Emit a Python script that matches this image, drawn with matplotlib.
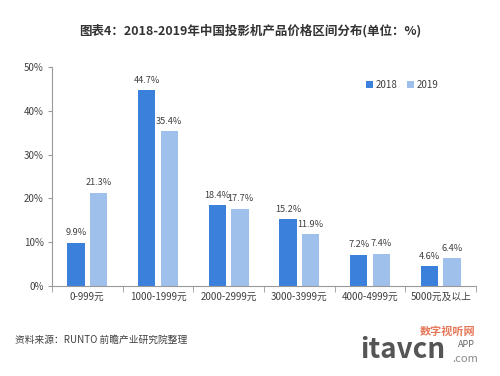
import matplotlib
matplotlib.use("Agg")
import matplotlib.pyplot as plt
import numpy as np

plt.rcParams['font.family'] = ['Noto Sans CJK SC', 'DejaVu Sans']

categories = ["0-999元", "1000-1999元", "2000-2999元", "3000-3999元", "4000-4999元", "5000元及以上"]
v2018 = [9.9, 44.7, 18.4, 15.2, 7.2, 4.6]
v2019 = [21.3, 35.4, 17.7, 11.9, 7.4, 6.4]
yticks = [0, 10, 20, 30, 40, 50]

c18 = "#3b80da"
c19 = "#a0c0ec"
txt = "#404040"

fig = plt.figure(figsize=(5, 3.76), dpi=100)
ax = fig.add_axes([0.104, 0.239, 0.848, 0.583])

x = np.arange(len(categories))
w = 0.245
off = 0.16
b1 = ax.bar(x - off, v2018, w, color=c18, label="2018")
b2 = ax.bar(x + off, v2019, w, color=c19, label="2019")
for bars, vals in ((b1, v2018), (b2, v2019)):
    for b, v in zip(bars, vals):
        ax.text(b.get_x() + b.get_width() / 2, v + 1.2, f"{v}%", ha="center", va="bottom",
                fontsize=6.6, color=txt)

ax.set_xlim(-0.5, len(categories) - 0.5)
ax.set_ylim(0, 50)
ax.set_yticks(yticks)
ax.set_yticklabels([f"{t}%" for t in yticks], fontsize=7, color=txt)
ax.set_xticks(x)
ax.set_xticklabels(categories, fontsize=7, color=txt)
ax.set_xticks(np.arange(len(categories) + 1) - 0.5, minor=True)
ax.tick_params(axis="x", which="major", length=0, pad=4)
ax.tick_params(axis="x", which="minor", length=4, color="#999999")
ax.tick_params(axis="y", length=3, color="#999999", pad=3)
for s in ("top", "right"):
    ax.spines[s].set_visible(False)
for s in ("left", "bottom"):
    ax.spines[s].set_color("#999999")
    ax.spines[s].set_linewidth(0.8)

ax.legend(loc="upper left", bbox_to_anchor=(0.72, 0.98), ncol=2, frameon=False, fontsize=7,
          handlelength=0.7, handleheight=0.7, handletextpad=0.3, columnspacing=1.0,
          labelcolor=txt)

fig.text(0.5, 0.917, "图表4：2018-2019年中国投影机产品价格区间分布(单位：%)", ha="center", va="center",
         fontsize=9, fontweight="bold", color="#333333")
fig.text(0.03, 0.095, "资料来源：RUNTO 前瞻产业研究院整理", ha="left", va="center",
         fontsize=7, color="#404040")
fig.text(0.84, 0.118, "数字视听网", ha="left", va="center", fontsize=8, color="#e0603a",
         fontweight="bold", alpha=0.85)
fig.text(0.72, 0.07, "itavcn", ha="left", va="center", fontsize=20, color="#555555",
         fontweight="bold")
fig.text(0.905, 0.045, ".com", ha="left", va="center", fontsize=8, color="#888888")
fig.text(0.915, 0.085, "APP", ha="left", va="center", fontsize=6.5, color="#666666")

fig.savefig("out.png", dpi=100, facecolor="white")
